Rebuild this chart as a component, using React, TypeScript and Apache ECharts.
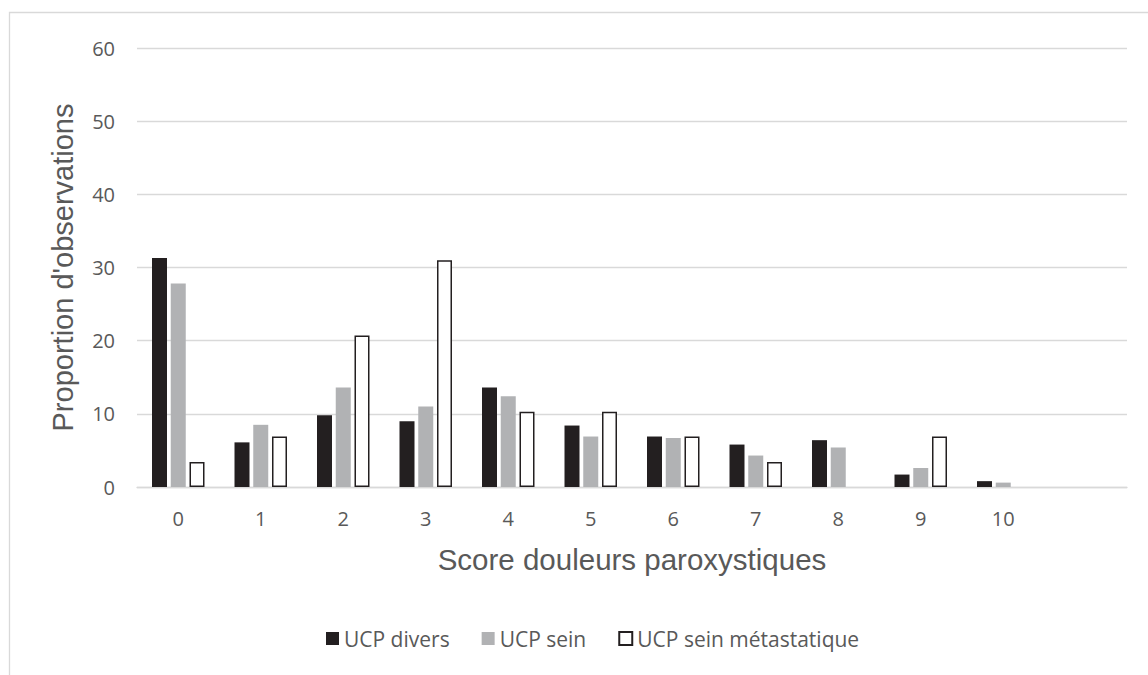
import React, { useEffect, useRef } from "react";
import * as echarts from "echarts";

const categories = ["0", "1", "2", "3", "4", "5", "6", "7", "8", "9", "10", ""];
const ucpDivers = [31.3, 6.1, 9.8, 9.0, 13.6, 8.4, 6.9, 5.8, 6.4, 1.7, 0.8];
const ucpSein = [27.8, 8.5, 13.6, 11.0, 12.4, 6.9, 6.7, 4.3, 5.4, 2.6, 0.6];
const ucpSeinMeta = [3.4, 6.9, 20.7, 31.0, 10.3, 10.3, 6.9, 3.4, null, 6.9, null];
const seriesNames = ["UCP divers", "UCP sein", "UCP sein métastatique"];

const BLACK = "#231F20";
const GRAY = "#B1B2B4";
const TEXT = "#595959";
const GRID = "#D9D9D9";

export default function App() {
  const ref = useRef<HTMLDivElement>(null);
  useEffect(() => {
    if (!ref.current) return;
    const chart = echarts.init(ref.current, null, { renderer: "svg" });
    chart.setOption({
      animation: false,
      backgroundColor: "#FFFFFF",
      graphic: [
        {
          type: "rect",
          shape: { x: 9.5, y: 12.5, width: 1300, height: 800 },
          style: { fill: "none", stroke: GRID, lineWidth: 1.3 },
          silent: true,
        },
      ],
      grid: { left: 137, right: 21, top: 48, bottom: 188, containLabel: false },
      legend: {
        left: 321,
        top: 623,
        itemWidth: 13,
        itemHeight: 13,
        itemGap: 32,
        icon: "rect",
        textStyle: { fontFamily: "Open Sans", fontSize: 21, color: TEXT },
        data: seriesNames,
      },
      xAxis: {
        type: "category",
        data: categories,
        name: "Score douleurs paroxystiques",
        nameLocation: "middle",
        nameGap: 57,
        nameTextStyle: { fontFamily: "Liberation Sans", fontSize: 29.5, color: TEXT },
        axisLine: { lineStyle: { color: GRID, width: 1.3 } },
        axisTick: { show: false },
        axisLabel: { fontFamily: "Open Sans", fontSize: 20, color: TEXT, margin: 21 },
      },
      yAxis: {
        type: "value",
        min: 0,
        max: 60,
        interval: 10,
        name: "Proportion d'observations",
        nameLocation: "middle",
        nameGap: 60,
        nameTextStyle: { fontFamily: "Liberation Sans", fontSize: 29, color: TEXT },
        axisLine: { show: false },
        axisTick: { show: false },
        splitLine: { lineStyle: { color: GRID, width: 1.3 } },
        axisLabel: { fontFamily: "Open Sans", fontSize: 20, color: TEXT, margin: 22 },
      },
      series: [
        {
          name: seriesNames[0],
          type: "bar",
          data: ucpDivers,
          barWidth: 15,
          barGap: "25%",
          itemStyle: { color: BLACK },
        },
        {
          name: seriesNames[1],
          type: "bar",
          data: ucpSein,
          barWidth: 15,
          barGap: "25%",
          itemStyle: { color: GRAY },
        },
        {
          name: seriesNames[2],
          type: "bar",
          data: ucpSeinMeta,
          barWidth: 15,
          barGap: "25%",
          itemStyle: { color: "#FFFFFF", borderColor: BLACK, borderWidth: 1.5 },
        },
      ],
    });
    return () => chart.dispose();
  }, []);
  return (
    <div
      ref={ref}
      style={{ position: "fixed", left: 0, top: 0, width: 1148, height: 675 }}
    />
  );
}
